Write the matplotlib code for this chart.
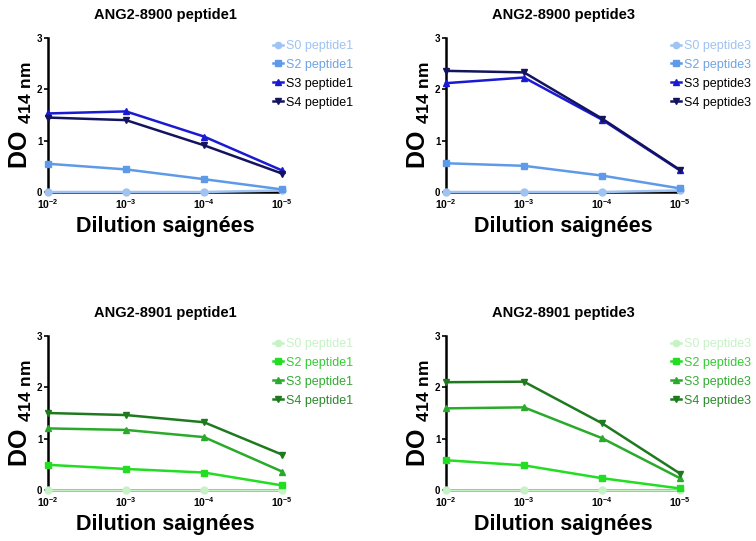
import matplotlib.pyplot as plt

plt.rcParams['font.family'] = ['Liberation Sans', 'DejaVu Sans']
plt.rcParams['mathtext.fontset'] = 'custom'
plt.rcParams['mathtext.rm'] = 'Liberation Sans'
plt.rcParams['mathtext.bf'] = 'Liberation Sans:bold'

# Data
dilutions = [r'$\mathbf{10^{-2}}$', r'$\mathbf{10^{-3}}$', r'$\mathbf{10^{-4}}$', r'$\mathbf{10^{-5}}$']
sera = ['S0', 'S2', 'S3', 'S4']

titles = ['ANG2-8900 peptide1', 'ANG2-8900 peptide3',
          'ANG2-8901 peptide1', 'ANG2-8901 peptide3']
peptides = ['peptide1', 'peptide3', 'peptide1', 'peptide3']

p8900_pep1 = [[0.0, 0.0, 0.0, 0.03],
              [0.55, 0.44, 0.25, 0.05],
              [1.53, 1.57, 1.08, 0.42],
              [1.45, 1.40, 0.91, 0.36]]
p8900_pep3 = [[0.0, 0.0, 0.0, 0.03],
              [0.56, 0.51, 0.32, 0.07],
              [2.12, 2.23, 1.41, 0.42],
              [2.36, 2.33, 1.43, 0.43]]
p8901_pep1 = [[0.0, 0.0, 0.0, 0.0],
              [0.49, 0.41, 0.34, 0.09],
              [1.20, 1.17, 1.03, 0.36],
              [1.50, 1.46, 1.32, 0.69]]
p8901_pep3 = [[0.0, 0.0, 0.0, 0.0],
              [0.58, 0.48, 0.23, 0.03],
              [1.59, 1.61, 1.01, 0.23],
              [2.10, 2.11, 1.30, 0.32]]
all_data = [p8900_pep1, p8900_pep3, p8901_pep1, p8901_pep3]

blues = ['#9fc3f2', '#5f9ae8', '#1a1ad2', '#14145e']
greens = ['#c6f2c6', '#22dd22', '#2aaa2a', '#1f7a1f']
blue_text = ['#9fc3f2', '#6fa3e6', 'black', 'black']
green_text = ['#c6f2c6', '#33cc33', '#33aa33', '#2a8a2a']
markers = ['o', 's', '^', 'v']

# axes corners in pixels: left x, bottom y
W, H = 756, 541
positions = [(48, 192), (446, 192), (48, 490), (446, 490)]

fig = plt.figure(figsize=(W / 100, H / 100), dpi=100)

for i in range(4):
    x0, ybot = positions[i]
    ax = fig.add_axes([x0 / W, 1 - ybot / H, 234 / W, 154 / H])
    colors = blues if i < 2 else greens
    tcolors = blue_text if i < 2 else green_text
    xs = range(len(dilutions))
    for j, s in enumerate(sera):
        ax.plot(xs, all_data[i][j], color=colors[j], marker=markers[j],
                markersize=5, linewidth=1.8, clip_on=False, zorder=3,
                label=s + ' ' + peptides[i])
    ax.set_xlim(0, 3)
    ax.set_ylim(0, 3)
    ax.set_xticks(list(xs))
    ax.set_xticklabels(dilutions, fontsize=7.5)
    ax.set_yticks([0, 1, 2, 3])
    ax.set_yticklabels(['0', '1', '2', '3'], fontsize=7, fontweight='bold')
    ax.tick_params(axis='x', length=0, pad=4)
    ax.tick_params(axis='y', length=3, width=1.2, pad=1)
    for sp in ['top', 'right']:
        ax.spines[sp].set_visible(False)
    ax.spines['left'].set_linewidth(1.8)
    ax.spines['bottom'].set_linewidth(1.8)
    ax.set_title(titles[i], fontsize=10.5, fontweight='bold', pad=14)
    ax.set_xlabel('Dilution saignées', fontsize=15.5, fontweight='bold', labelpad=3)
    ax.set_ylabel(r'$\mathbf{DO}\ _{\mathbf{414\ nm}}$', fontsize=18, labelpad=2)
    leg = ax.legend(loc='upper left', bbox_to_anchor=(0.94, 1.02), frameon=False,
                    fontsize=9, handlelength=0.8, handletextpad=0.25,
                    labelspacing=0.55, borderaxespad=0, markerscale=0.9)
    for t, c in zip(leg.get_texts(), tcolors):
        t.set_color(c)

fig.savefig('out.png', dpi=100)
